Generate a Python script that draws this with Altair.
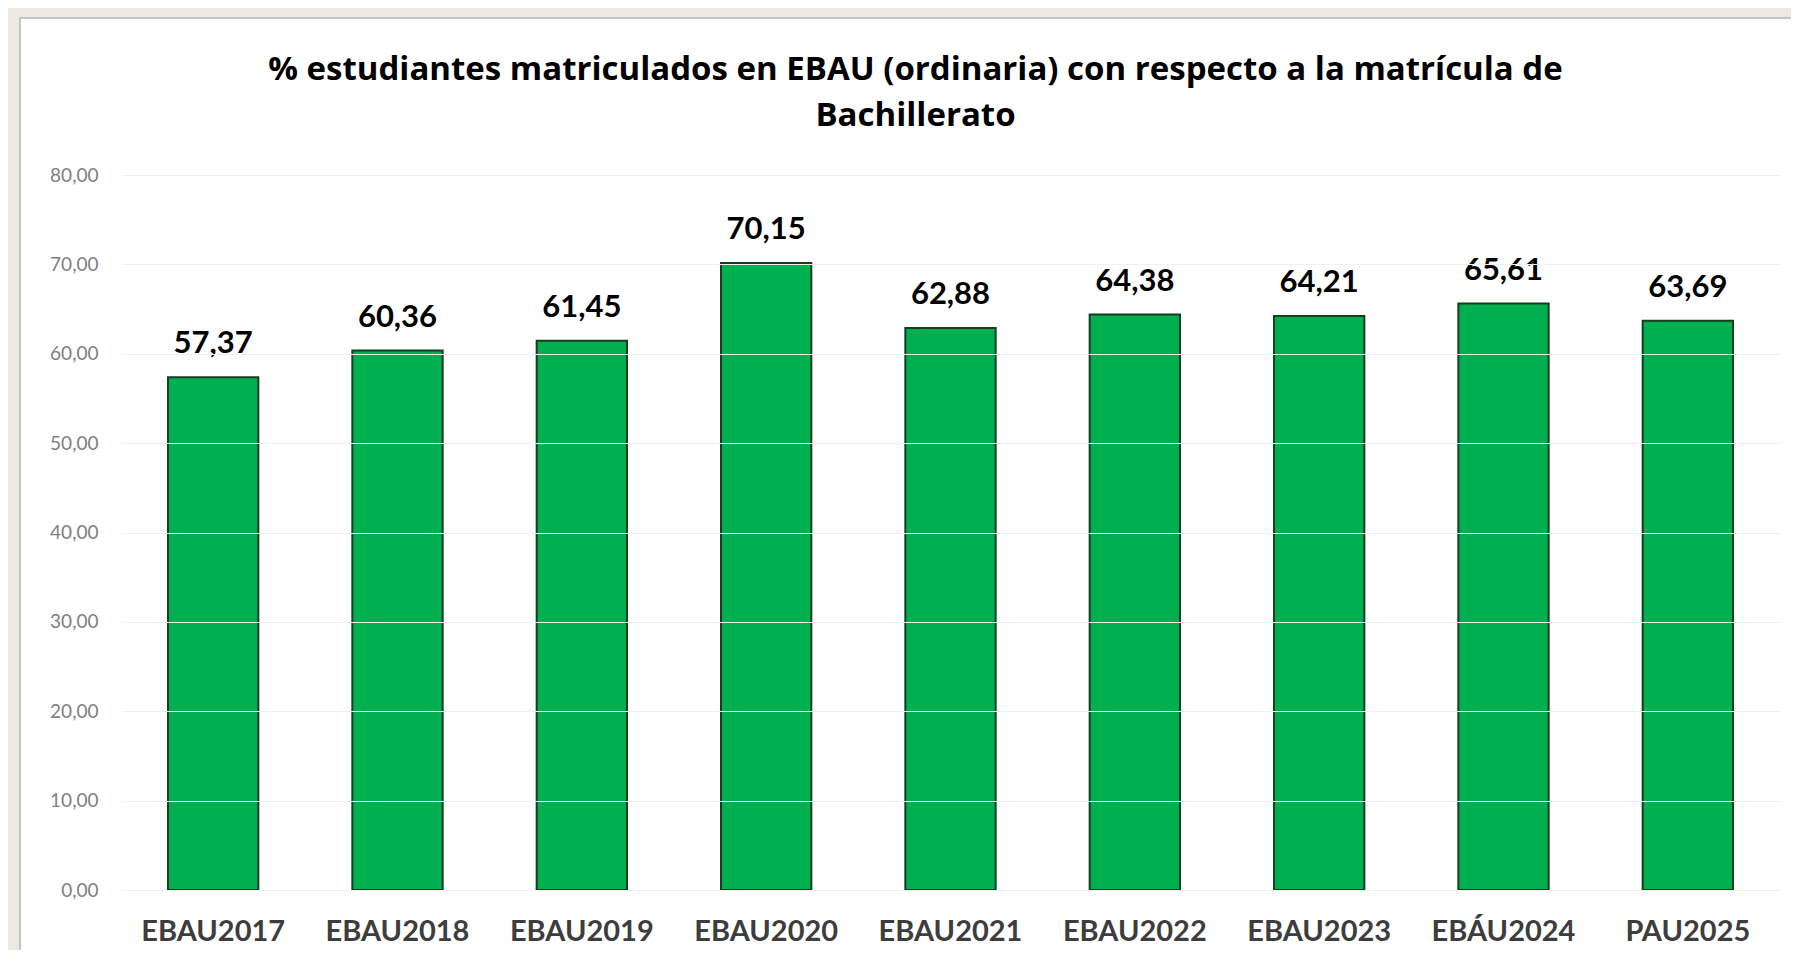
import altair as alt
import pandas as pd

categories = ["EBAU2017", "EBAU2018", "EBAU2019", "EBAU2020", "EBAU2021",
              "EBAU2022", "EBAU2023", "EBÁU2024", "PAU2025"]
values = [57.37, 60.36, 61.45, 70.15, 62.88, 64.38, 64.21, 65.61, 63.69]
y_ticks = [0, 10, 20, 30, 40, 50, 60, 70, 80]
title_lines = ["% estudiantes matriculados en EBAU (ordinaria) con respecto a la matrícula de",
               "Bachillerato"]

df = pd.DataFrame({"cat": categories, "v": values})

W, H = 1659, 715
FONT = "Lato"

x_enc = alt.X("cat:N", sort=categories,
              scale=alt.Scale(paddingInner=0.51, paddingOuter=0.255),
              axis=alt.Axis(title=None, labelAngle=0, ticks=False, domain=False,
                            labelFont=FONT, labelFontSize=29, labelFontWeight="bold",
                            labelColor="#3d3d3d", labelPadding=27, grid=False, zindex=1))
y_enc = alt.Y("v:Q", scale=alt.Scale(domain=[0, 80], nice=False),
              axis=alt.Axis(title=None, values=y_ticks, ticks=False, domain=False,
                            labelFont=FONT, labelFontSize=19, labelColor="#808080",
                            labelPadding=23, gridColor="#f0f0f0", gridWidth=1, zindex=1,
                            labelExpr="replace(format(datum.value, '.2f'), '.', ',')"))

panel = alt.Chart(pd.DataFrame({"a": [0]})).mark_rect(
    fill="white", stroke="#c4c4c4", strokeWidth=2
).encode(x=alt.value(-101), x2=alt.value(W + 60), y=alt.value(-157), y2=alt.value(H + 120))

bars = alt.Chart(df).mark_bar(color="#00b050", stroke="#153d22", strokeWidth=2).encode(
    x=x_enc, y=y_enc)

labels = alt.Chart(df).transform_calculate(
    lab="replace(format(datum.v, '.2f'), '.', ',')"
).mark_text(font=FONT, fontSize=31, fontWeight="bold", color="black",
            baseline="middle", dy=-33).encode(
    x=alt.X("cat:N", sort=categories), y=alt.Y("v:Q"), text="lab:N")

chart = alt.layer(panel, bars, labels).properties(
    width=W, height=H,
    title=alt.TitleParams(title_lines, font="Open Sans", fontSize=33, fontWeight="bold",
                          color="black", anchor="middle", frame="group", dx=-35,
                          offset=-116, lineHeight=46, zindex=2),
    background="#ece8e2",
    padding={"left": 113, "top": 167, "right": 11, "bottom": 60},
    autosize=alt.AutoSizeParams(type="none"),
).configure_view(stroke=None)

chart.save("out.html", embed_options={"renderer": "svg", "actions": False})
